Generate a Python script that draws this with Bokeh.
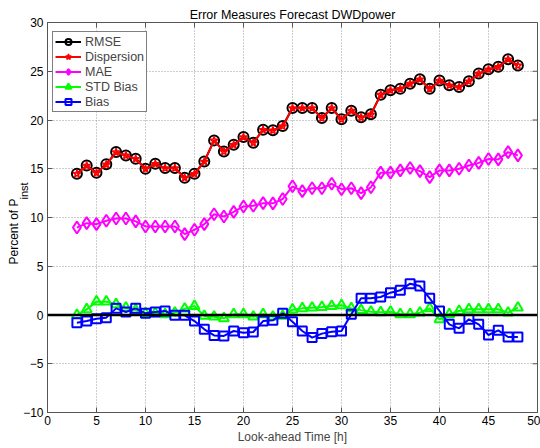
from bokeh.plotting import figure
from bokeh.models import Legend, LegendItem, Title, Span, ColumnDataSource
from bokeh.embed import file_html
from bokeh.resources import INLINE

hours = list(range(3, 49))
rmse = [14.49, 15.34, 14.59, 15.45, 16.71, 16.37, 16.03, 15.00, 15.51, 15.07, 15.07, 14.08,
        14.49, 15.75, 17.91, 16.78, 17.47, 18.25, 17.67, 19.00, 18.94, 19.38, 21.23, 21.23,
        21.23, 20.20, 21.23, 20.07, 20.96, 20.27, 20.58, 22.60, 23.05, 23.20, 23.73, 24.18,
        23.20, 24.04, 23.56, 23.39, 23.97, 24.76, 25.20, 25.45, 26.23, 25.60]
dispersion = [14.47, 15.32, 14.57, 15.43, 16.69, 16.35, 16.01, 14.98, 15.49, 15.05, 15.05, 14.06,
              14.47, 15.73, 17.89, 16.76, 17.45, 18.23, 17.65, 18.98, 18.92, 19.36, 21.21, 21.21,
              21.21, 20.18, 21.21, 20.05, 20.94, 20.25, 20.56, 22.58, 23.03, 23.18, 23.71, 24.16,
              23.18, 24.02, 23.54, 23.37, 23.95, 24.74, 25.18, 25.43, 26.21, 25.58]
mae = [8.97, 9.42, 9.32, 9.66, 9.90, 9.90, 9.60, 9.08, 9.08, 9.08, 9.08, 8.30,
       8.74, 9.32, 10.34, 10.10, 10.58, 11.13, 11.20, 11.47, 11.45, 11.90, 13.20, 12.70,
       13.00, 13.00, 13.46, 12.90, 13.00, 12.50, 13.10, 14.60, 14.60, 14.83, 15.07, 14.76,
       14.14, 14.83, 14.83, 15.00, 15.34, 15.60, 16.00, 15.96, 16.70, 16.37]
std_bias = [0.00, 0.58, 1.37, 1.37, 1.10, 0.75, 0.50, 0.17, 0.17, 0.07, 0.24, 0.65,
            0.92, -0.10, -0.17, -0.34, 0.07, 0.07, -0.17, 0.07, -0.17, -0.10, 0.55, 0.68,
            0.75, 0.82, 0.92, 1.00, 0.68, 0.50, 0.34, 0.27, 0.34, 0.07, 0.07, 0.24,
            0.68, -0.44, 0.07, 0.41, 0.58, 0.58, 0.58, 0.58, 0.24, 0.75]
bias = [-0.79, -0.62, -0.38, -0.27, 0.68, 0.31, 0.68, 0.17, 0.31, 0.41, -0.03, -0.03,
        -0.62, -1.47, -2.09, -2.15, -1.64, -1.81, -1.74, -0.62, -0.55, 0.17, -0.70, -1.64,
        -2.32, -1.91, -1.71, -1.64, 0.07, 1.71, 1.71, 1.85, 2.29, 2.53, 3.21, 2.97,
        1.71, 0.41, -0.96, -1.37, -0.44, -0.96, -2.05, -1.57, -2.26, -2.26]

x_ticks = [0, 5, 10, 15, 20, 25, 30, 35, 40, 45, 50]
y_ticks = [-10, -5, 0, 5, 10, 15, 20, 25, 30]
title_text = "Error Measures Forecast DWDpower"
x_label = "Look-ahead Time [h]"
y_label_main = "Percent of P"
y_label_sub = "inst"

FONT = "Liberation Sans"
AX = "#555555"
X0, X1, Y0, Y1 = 0, 50, -10, 30
FW, FH = 490, 390
TICK = 5

src = ColumnDataSource(dict(x=hours, rmse=rmse, disp=dispersion, mae=mae, std=std_bias, bias=bias))

p = figure(width=540, height=448, x_range=(X0, X1), y_range=(Y0, Y1),
           output_backend="svg", toolbar_location=None,
           min_border_left=47, min_border_right=3, min_border_top=22, min_border_bottom=36,
           title=title_text)
p.background_fill_color = "white"
p.border_fill_color = "white"
p.outline_line_color = AX
p.outline_line_width = 1

p.title.align = "center"
p.title.text_font = FONT
p.title.text_font_size = "12.5px"
p.title.text_font_style = "normal"
p.title.text_color = "black"
p.title.offset = 0
p.title.standoff = 2

for ax in (p.xaxis[0], p.yaxis[0]):
    ax.axis_line_color = AX
    ax.major_tick_line_color = AX
    ax.major_tick_in = TICK
    ax.major_tick_out = 0
    ax.minor_tick_line_color = None
    ax.major_label_text_font = FONT
    ax.major_label_text_font_size = "12px"
    ax.major_label_text_color = "black"
p.yaxis.major_label_standoff = 4
p.xaxis.major_label_standoff = 3
p.xaxis.ticker = x_ticks
p.yaxis.ticker = y_ticks
p.xaxis.axis_label = x_label
p.xaxis.axis_label_text_font = FONT
p.xaxis.axis_label_text_font_size = "12px"
p.xaxis.axis_label_text_font_style = "normal"
p.xaxis.axis_label_standoff = 2

# y-axis label with subscript: two vertical titles in the left panel
sub_t = Title(text=y_label_sub, align="left", offset=213, standoff=-18,
              text_font=FONT, text_font_size="11px", text_font_style="normal",
              text_color="black")
main_t = Title(text=y_label_main, align="left", offset=148, standoff=-1,
               text_font=FONT, text_font_size="12px", text_font_style="normal",
               text_color="black")
p.add_layout(sub_t, "left")
p.add_layout(main_t, "left")

for g in (p.xgrid[0], p.ygrid[0]):
    g.grid_line_color = "#9a9a9a"
    g.grid_line_dash = "1 2"
    g.grid_line_width = 1
p.xgrid.ticker = x_ticks
p.ygrid.ticker = y_ticks

# inward ticks on top and right edges (mirror of axes ticks)
dy = TICK * (Y1 - Y0) / FH
dx = TICK * (X1 - X0) / FW
p.segment(x0=x_ticks, y0=[Y1] * len(x_ticks), x1=x_ticks, y1=[Y1 - dy] * len(x_ticks),
          line_color=AX, line_width=1)
p.segment(x0=[X1] * len(y_ticks), y0=y_ticks, x1=[X1 - dx] * len(y_ticks), y1=y_ticks,
          line_color=AX, line_width=1)

lw = 2
r1l = p.line("x", "rmse", source=src, line_color="black", line_width=lw)
r1m = p.scatter("x", "rmse", source=src, marker="circle", size=10, line_color="black",
                line_width=2, fill_color=None)
r2l = p.line("x", "disp", source=src, line_color="red", line_width=lw)
r2m = p.scatter("x", "disp", source=src, marker="star", size=8, line_color="red",
                line_width=1.5, fill_color=None)
r3l = p.line("x", "mae", source=src, line_color="magenta", line_width=lw)
r3m = p.scatter("x", "mae", source=src, marker="diamond", size=12, line_color="magenta",
                line_width=2, fill_color=None)
r4l = p.line("x", "std", source=src, line_color="#00ff00", line_width=lw)
r4m = p.scatter("x", "std", source=src, marker="triangle", size=10, line_color="#00ff00",
                line_width=2, fill_color=None)
r5l = p.line("x", "bias", source=src, line_color="blue", line_width=lw)
r5m = p.scatter("x", "bias", source=src, marker="square", size=9, line_color="blue",
                line_width=2, fill_color=None)

zero = Span(location=0, dimension="width", line_color="black", line_width=2.5)
p.add_layout(zero)

legend = Legend(items=[
    LegendItem(label="RMSE", renderers=[r1l, r1m]),
    LegendItem(label="Dispersion", renderers=[r2l, r2m]),
    LegendItem(label="MAE", renderers=[r3l, r3m]),
    LegendItem(label="STD Bias", renderers=[r4l, r4m]),
    LegendItem(label="Bias", renderers=[r5l, r5m]),
], location=(5, 300))
legend.border_line_color = "black"
legend.border_line_width = 1
legend.background_fill_color = "white"
legend.background_fill_alpha = 1
legend.label_text_font = FONT
legend.label_text_font_size = "12.5px"
legend.glyph_width = 26
legend.glyph_height = 15
legend.label_height = 15
legend.spacing = 0
legend.padding = 2
legend.margin = 0
legend.label_standoff = 4
p.add_layout(legend)

open("out.html", "w").write(file_html(p, INLINE))
